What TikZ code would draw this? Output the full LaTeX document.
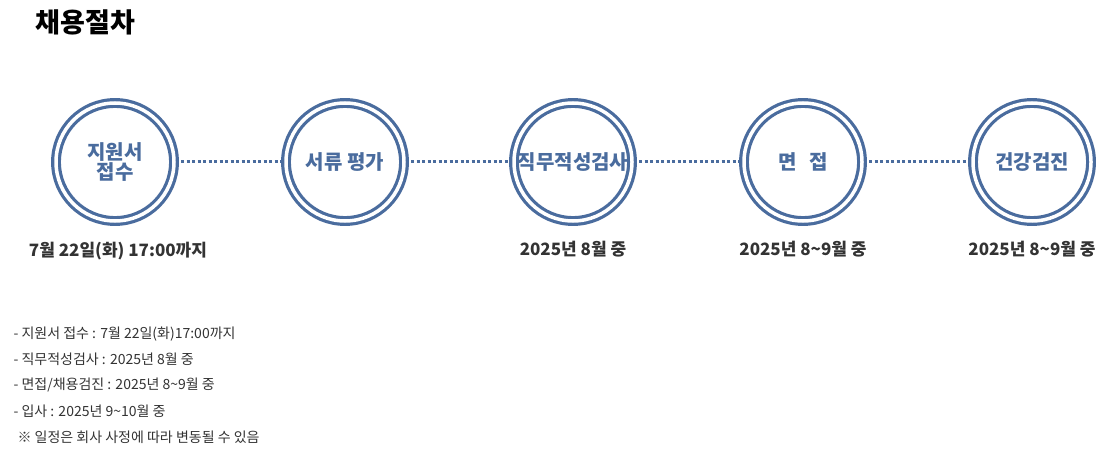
\documentclass[tikz,border=0pt]{standalone}
\usepackage{fontspec}
\setmainfont{Noto Sans CJK KR}
\definecolor{cb}{HTML}{4A6C9E}
\definecolor{tx}{HTML}{333333}
\tikzset{stage/.style={circle,draw=cb,line width=3.2pt,double=white,double distance=3.5pt,minimum size=118pt,inner sep=0pt,text=cb,font=\fontsize{20}{23}\selectfont\bfseries,align=center},
dots/.style={cb,line width=3pt,dash pattern=on 3pt off 2.5pt},
date/.style={text=tx,font=\fontsize{17}{20}\selectfont\bfseries},
note/.style={anchor=west,text=tx,font=\fontsize{14}{17}\selectfont}}
\begin{document}
\begin{tikzpicture}[x=1pt,y=-1pt]
\useasboundingbox[fill=white](0,0) rectangle (1119,457);
\node[anchor=west,font=\fontsize{27}{30}\selectfont\bfseries] (title) at (32,22) {채용절차};
\node[stage] (s1) at (115,162) {지원서\\[-3pt]접수};
\node[stage] (s2) at (345,162) {서류 평가};
\node[stage] (s3) at (573,162) {직무적성검사};
\node[stage] (s4) at (803,162) {면\hspace{0.6em}접};
\node[stage] (s5) at (1032,162) {건강검진};
\foreach \a/\b in {s1/s2,s2/s3,s3/s4,s4/s5}
  \draw[dots] (\a.east) -- (\b.west);
\node[date] (d1) at (118,251) {7월 22일(화) 17:00까지};
\node[date] (d3) at (573,249) {2025년 8월 중};
\node[date] (d4) at (803,249) {2025년 8\textasciitilde9월 중};
\node[date] (d5) at (1032,249) {2025년 8\textasciitilde9월 중};
\node[note] (n1) at (10,334) {- 지원서 접수 : 7월 22일(화)17:00까지};
\node[note] (n2) at (10,359) {- 직무적성검사 : 2025년 8월 중};
\node[note] (n3) at (10,385) {- 면접/채용검진 : 2025년 8\textasciitilde9월 중};
\node[note] (n4) at (10,411) {- 입사 : 2025년 9\textasciitilde10월 중};
\node[note] (n5) at (14,437) {※ 일정은 회사 사정에 따라 변동될 수 있음};
\end{tikzpicture}
\end{document}
